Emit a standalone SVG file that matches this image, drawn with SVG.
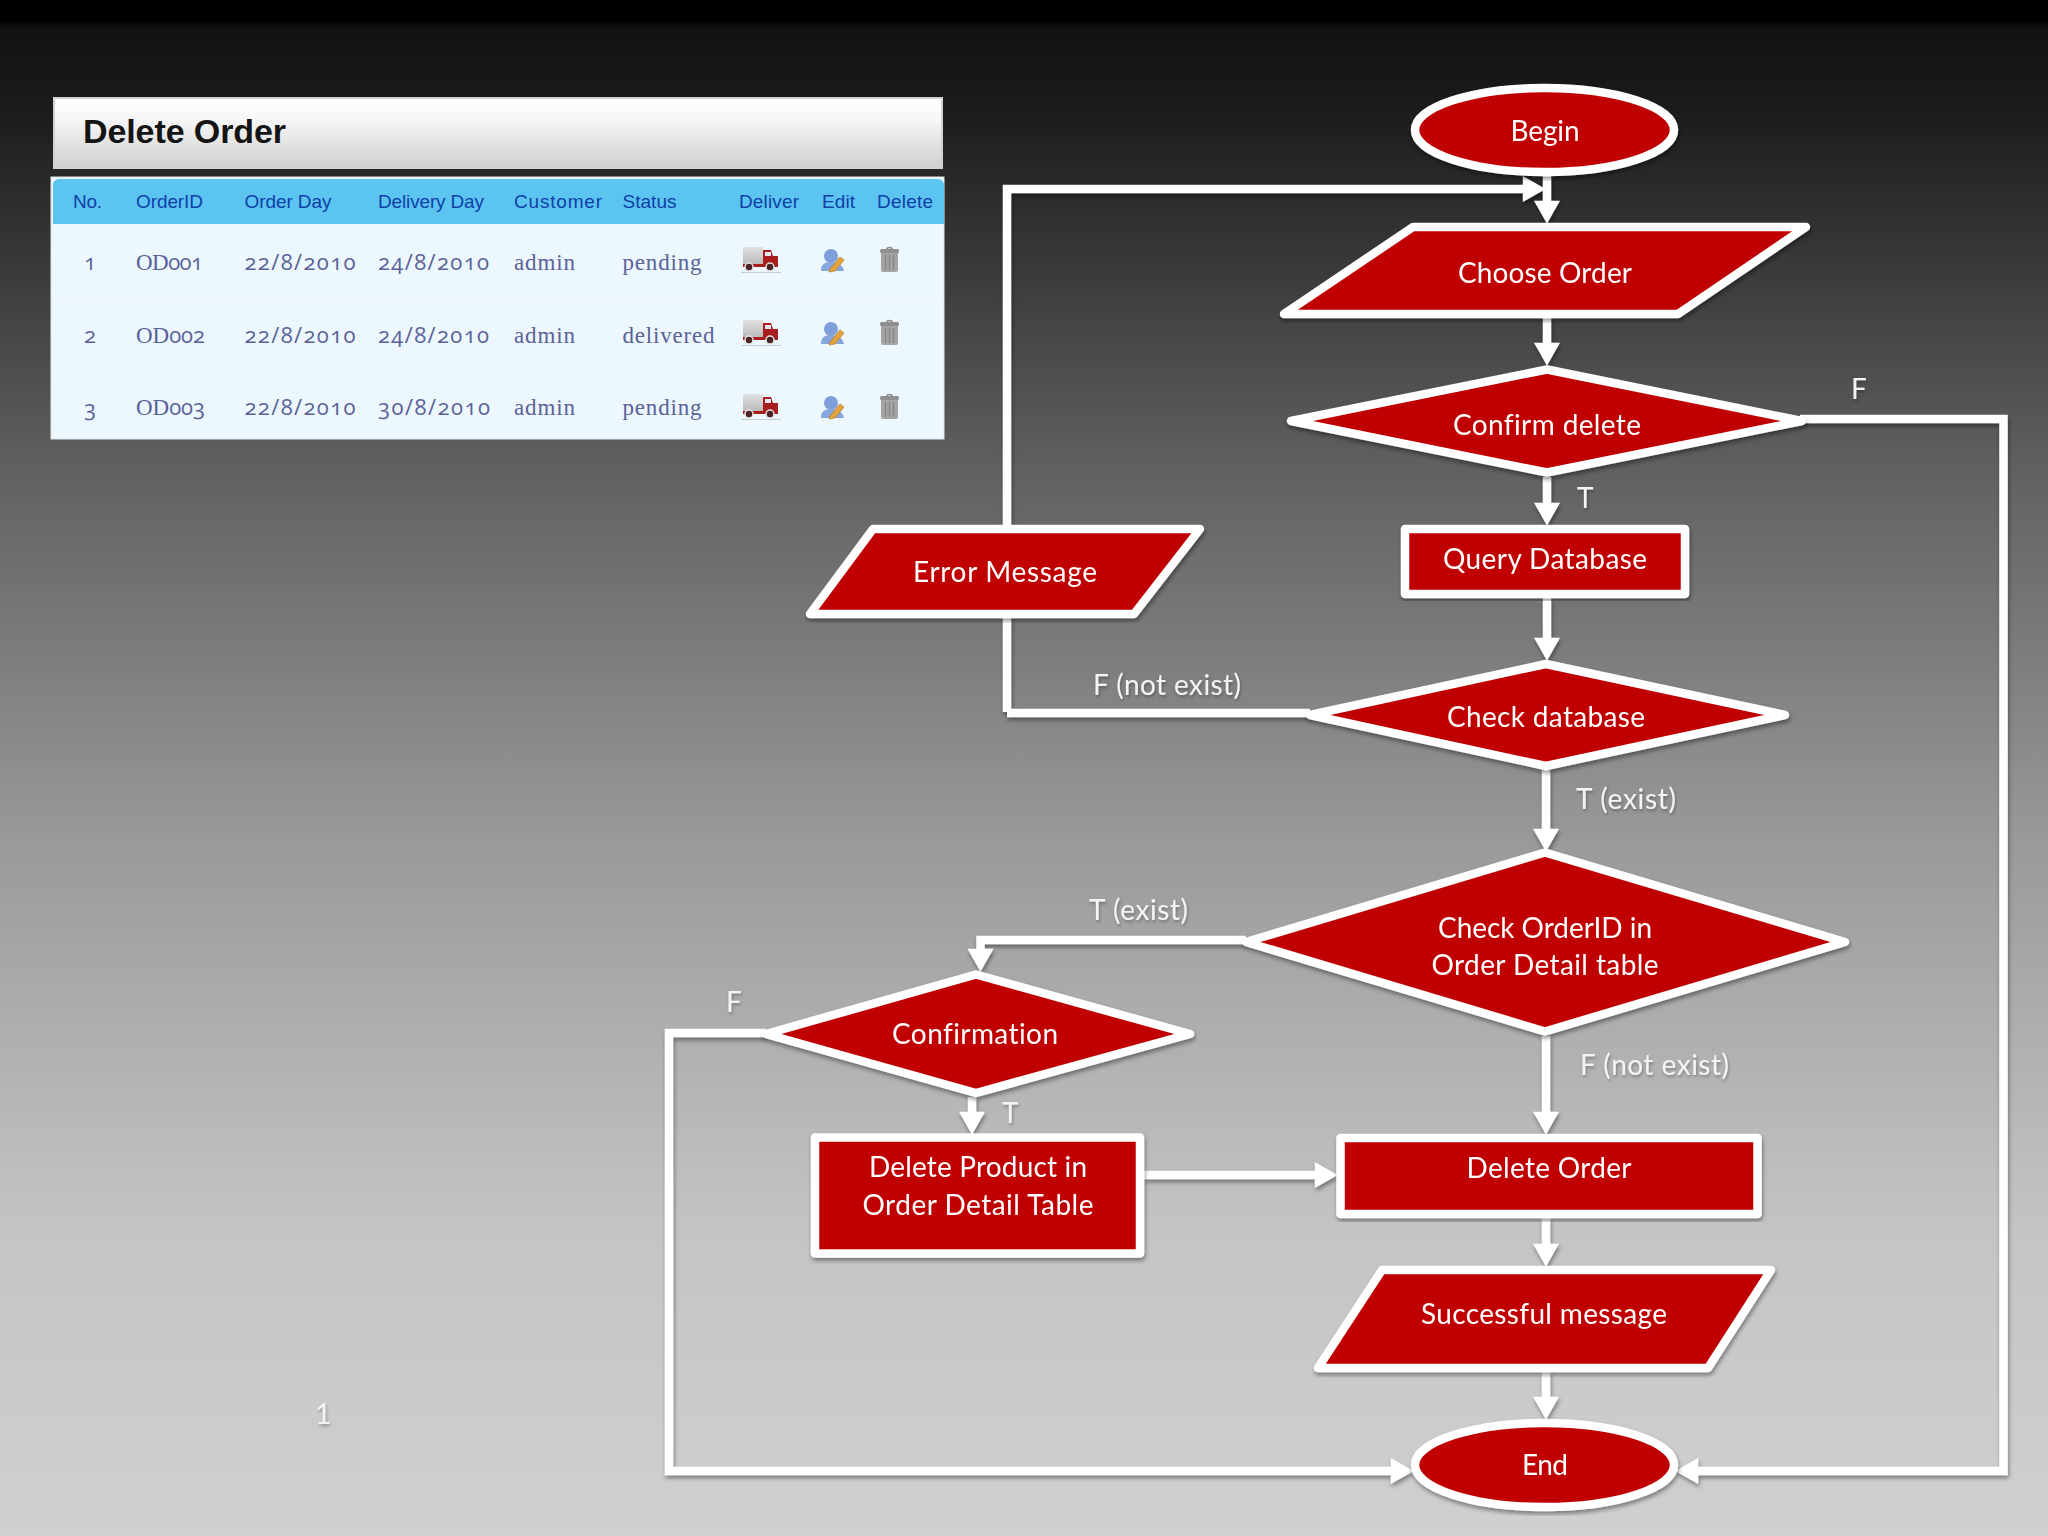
<svg xmlns="http://www.w3.org/2000/svg" width="2048" height="1536" viewBox="0 0 2048 1536">
<style>
.n{fill:#c00000;stroke:#fff;stroke-width:8.5;stroke-linejoin:round}
.t{font-family:Lato,"Open Sans",sans-serif;font-size:28px;fill:#fff;text-anchor:middle;font-variant-ligatures:none}
.l{font-family:Lato,"Open Sans",sans-serif;font-size:28px;fill:#f4f4f4;font-variant-ligatures:none}
.c{fill:none;stroke:#fff;stroke-width:8.500;marker-end:url(#a)}
.p{fill:none;stroke:#fff;stroke-width:8.500}
.h{font-family:"Liberation Sans",Arial,sans-serif;font-size:19px;fill:#0f40a8}
.b{font-family:"Liberation Serif","Times New Roman",serif;font-size:23px;fill:#5b6299}
.o{font-family:"Open Sans",sans-serif;font-feature-settings:"onum" 1;font-variant-numeric:oldstyle-nums;font-size:22px}
</style>
<defs>
<linearGradient id="bg" x1="0" y1="0" x2="0" y2="1">
<stop offset="0" stop-color="#000"/><stop offset=".013" stop-color="#000"/><stop offset=".019" stop-color="#121212"/><stop offset=".07" stop-color="#1b1b1b"/><stop offset=".3" stop-color="#5f5f5f"/><stop offset=".55" stop-color="#9a9a9a"/><stop offset=".8" stop-color="#c4c4c6"/><stop offset="1" stop-color="#d0d0d2"/>
</linearGradient>
<linearGradient id="tb" x1="0" y1="0" x2="0" y2="1"><stop offset="0" stop-color="#fff"/><stop offset=".3" stop-color="#f7f7f7"/><stop offset="1" stop-color="#cfcfcf"/></linearGradient>
<linearGradient id="box" x1="0" y1="0" x2="0" y2="1"><stop offset="0" stop-color="#e2e2e2"/><stop offset="1" stop-color="#b8b8b8"/></linearGradient>
<filter id="s" x="-10%" y="-10%" width="120%" height="120%"><feDropShadow dx="1" dy="3" stdDeviation="2" flood-color="#000" flood-opacity=".4"/></filter>
<filter id="ts" x="-10%" y="-20%" width="120%" height="150%"><feDropShadow dx="1" dy="2" stdDeviation="1.500" flood-color="#000" flood-opacity=".3"/></filter>
<marker id="a" markerUnits="userSpaceOnUse" markerWidth="26" markerHeight="26" viewBox="0 0 22 25" refX="4" refY="12.500" orient="auto"><polygon points="0,0 22,12.500 0,25" fill="#fff"/></marker>
<g id="truck">
<rect x="0" y="0" width="20" height="18" fill="url(#box)"/>
<path d="M20 3h8l2 6h5v11H0v-3h20z" fill="#a81e1e"/>
<rect x="22" y="5" width="6" height="4" fill="#e8e8f0"/>
<circle cx="6" cy="20" r="4" fill="#4a2424" stroke="#e4e4e4" stroke-width="1.500"/><circle cx="27" cy="20" r="4" fill="#4a2424" stroke="#e4e4e4" stroke-width="1.500"/>
<rect x="-2" y="25" width="40" height="1" fill="#c4ccd4"/>
</g>
<g id="user">
<circle cx="10" cy="7" r="7" fill="#7f9fdc"/>
<path d="M0 22c0-7 4-9 10-9s12 3 13 9z" fill="#86a6e0"/>
<path d="M9 20L19 8l4 3-9 11-6 1z" fill="#e2a33c" stroke="#b87d22" stroke-width=".7"/>
</g>
<g id="trash">
<path d="M7 2c0-2 5-2 5 0" fill="none" stroke="#8a8a8a" stroke-width="1.500"/>
<rect x="0" y="2" width="19" height="4" rx="1.500" fill="#8f8f8f"/>
<path d="M1 6h17v17a2 2 0 0 1-2 2H3a2 2 0 0 1-2-2z" fill="#a4a4a4"/>
<path d="M5.500 8v15M9.500 8v15M13.500 8v15" stroke="#888" stroke-width="1.500"/>
</g>
</defs>
<rect id="background" width="2048" height="1536" fill="url(#bg)"/>

<g id="panel-title">
<rect x="54" y="98" width="888" height="70" fill="url(#tb)" stroke="#d2d2d2" stroke-width="2"/>
<text x="83" y="143" font-family="Liberation Sans,Arial,sans-serif" font-weight="700" font-size="34" fill="#141414" textLength="203">Delete Order</text>
</g>
<g id="order-table">
<rect x="51" y="177" width="893" height="262" fill="#ecf7fe" stroke="#dfe6ea" stroke-width="1"/>
<path d="M53 224V185a6 6 0 0 1 6-6H938a6 6 0 0 1 6 6V224z" fill="#5bc4f0"/>
<line x1="52" y1="297" x2="944" y2="297" stroke="#f4fbff" stroke-width="1"/>
<text class="h" x="73" y="208" textLength="29">No.</text>
<text class="h" x="136" y="208" textLength="67">OrderID</text>
<text class="h" x="244.500" y="208" textLength="87">Order Day</text>
<text class="h" x="378" y="208" textLength="106">Delivery Day</text>
<text class="h" x="514" y="208" textLength="88">Customer</text>
<text class="h" x="622.500" y="208" textLength="54">Status</text>
<text class="h" x="739" y="208" textLength="60">Deliver</text>
<text class="h" x="822" y="208" textLength="33">Edit</text>
<text class="h" x="877" y="208" textLength="56">Delete</text>

<text class="b o" x="84" y="270">1</text><text class="b" x="136" y="270" textLength="67">OD<tspan class="o">001</tspan></text><text class="b o" x="244.500" y="270" textLength="111">22/8/2010</text><text class="b o" x="378" y="270" textLength="111">24/8/2010</text><text class="b" x="514" y="270" textLength="61">admin</text><text class="b" x="622.500" y="270" textLength="79">pending</text>
<text class="b o" x="84" y="343">2</text><text class="b" x="136" y="343" textLength="69">OD<tspan class="o">002</tspan></text><text class="b o" x="244.500" y="343" textLength="111">22/8/2010</text><text class="b o" x="378" y="343" textLength="111">24/8/2010</text><text class="b" x="514" y="343" textLength="61">admin</text><text class="b" x="622.500" y="343" textLength="92">delivered</text>
<text class="b o" x="84" y="416">3</text><text class="b" x="136" y="415" textLength="69">OD<tspan class="o">003</tspan></text><text class="b o" x="244.500" y="415" textLength="111">22/8/2010</text><text class="b o" x="378" y="415" textLength="112">30/8/2010</text><text class="b" x="514" y="415" textLength="61">admin</text><text class="b" x="622.500" y="415" textLength="79">pending</text>

<use href="#truck" x="743" y="247"/><use href="#truck" x="743" y="320"/><use href="#truck" x="743" y="394"/>
<use href="#user" x="821" y="249"/><use href="#user" x="821" y="322"/><use href="#user" x="821" y="396"/>
<use href="#trash" x="880" y="247"/><use href="#trash" x="880" y="320"/><use href="#trash" x="880" y="394"/>
</g>

<g id="connectors" filter="url(#s)">
<path class="c" d="M1547 176V205"/>
<path class="c" d="M1007 712V189H1527"/>
<path class="p" d="M1310 713H1007"/>
<path class="c" d="M1547 318V347"/>
<path class="c" d="M1547 477V507"/>
<path class="c" d="M1547 598V642"/>
<path class="c" d="M1546 770V833"/>
<path class="c" d="M1546 1036V1116"/>
<path class="c" d="M1546 1218V1248"/>
<path class="c" d="M1546 1372V1401"/>
<path class="c" d="M1800 419H2003.500V1471H1694"/>
<path class="c" d="M1246 940H980.500V953"/>
<path class="c" d="M972 1097V1116"/>
<path class="c" d="M1144 1175H1319"/>
<path class="c" d="M766 1033H669V1471H1395"/>
</g>

<g id="begin" filter="url(#s)"><ellipse class="n" cx="1544.500" cy="130" rx="129.500" ry="42"/><text class="t" x="1545" y="141" textLength="69">Begin</text></g>
<g id="choose-order" filter="url(#s)"><polygon class="n" points="1413,227 1806,227 1678,314 1284,314"/><text class="t" x="1545" y="283" textLength="174">Choose Order</text></g>
<g id="confirm-delete" filter="url(#s)"><polygon class="n" points="1547,369.500 1802,421 1547,472.500 1291,421"/><text class="t" x="1547" y="435" textLength="188">Confirm delete</text></g>
<g id="query-database" filter="url(#s)"><rect class="n" x="1405" y="529" width="280" height="65"/><text class="t" x="1545" y="569" textLength="204">Query Database</text></g>
<g id="error-message" filter="url(#s)"><polygon class="n" points="873,529 1200,529 1134,614 810,614"/><text class="t" x="1005" y="582" textLength="184">Error Message</text></g>
<g id="check-database" filter="url(#s)"><polygon class="n" points="1546,664 1785,715 1546,766 1310,715"/><text class="t" x="1546" y="727" textLength="198">Check database</text></g>
<g id="check-orderid" filter="url(#s)"><polygon class="n" points="1545,852.500 1845,942 1545,1031.500 1246,942"/><text class="t" x="1545" y="938" textLength="214">Check OrderID in</text><text class="t" x="1545" y="975" textLength="227">Order Detail table</text></g>
<g id="confirmation" filter="url(#s)"><polygon class="n" points="976,974.500 1190,1034 976,1093 766,1034"/><text class="t" x="975" y="1044" textLength="166">Confirmation</text></g>
<g id="delete-product" filter="url(#s)"><rect class="n" x="815" y="1137.500" width="325" height="116"/><text class="t" x="978" y="1177" textLength="218">Delete Product in</text><text class="t" x="978" y="1215" textLength="231">Order Detail Table</text></g>
<g id="delete-order" filter="url(#s)"><rect class="n" x="1340.500" y="1138" width="417" height="76"/><text class="t" x="1549" y="1178" textLength="165">Delete Order</text></g>
<g id="successful-message" filter="url(#s)"><polygon class="n" points="1382,1270 1771,1270 1708,1368 1318,1368"/><text class="t" x="1544" y="1324" textLength="246">Successful message</text></g>
<g id="end" filter="url(#s)"><ellipse class="n" cx="1544.500" cy="1465" rx="129.500" ry="42"/><text class="t" x="1545" y="1475" textLength="46">End</text></g>

<g id="labels" filter="url(#ts)">
<text class="l" x="1851" y="399">F</text>
<text class="l" x="1577" y="508">T</text>
<text class="l" x="1093" y="695" textLength="148">F (not exist)</text>
<text class="l" x="1576" y="809" textLength="100">T (exist)</text>
<text class="l" x="1089" y="920" textLength="99">T (exist)</text>
<text class="l" x="726" y="1012">F</text>
<text class="l" x="1002" y="1123">T</text>
<text class="l" x="1580" y="1075" textLength="149">F (not exist)</text>
<text class="l" x="315" y="1424">1</text>
</g>
</svg>
